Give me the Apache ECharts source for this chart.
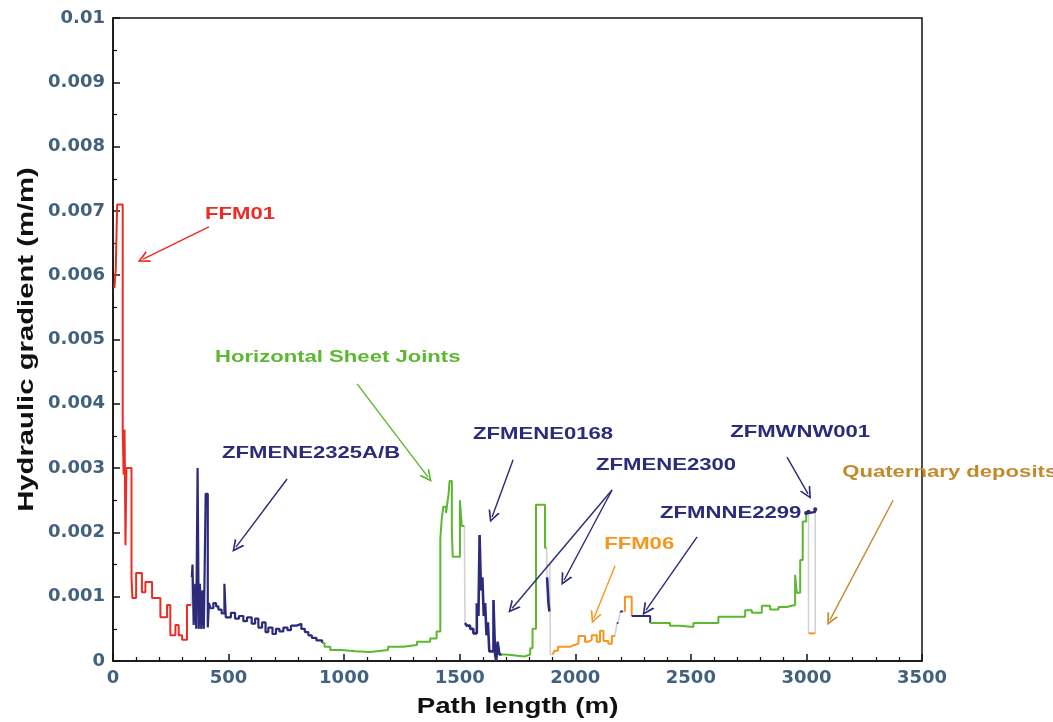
<!DOCTYPE html>
<html>
<head>
<meta charset="utf-8">
<title>Hydraulic gradient along flow path</title>
<script src="https://cdn.jsdelivr.net/npm/echarts@6/dist/echarts.min.js"></script>
<style>
  html, body { margin: 0; padding: 0; background: #ffffff; }
  #chart { width: 1053px; height: 722px; }
</style>
</head>
<body>
<div id="chart"></div>
<script>
// Axis ticks
const xTickLabels = ['0', '500', '1000', '1500', '2000', '2500', '3000', '3500'];
const yTickLabels = ['0', '0.001', '0.002', '0.003', '0.004', '0.005', '0.006', '0.007', '0.008', '0.009', '0.01'];

// Step segments: [path length (m), hydraulic gradient (m/m)], each level holds until the next point
const ffm01 = [[6,0.0058],[12,0.0061],[18,0.0071],[42,0.0036],[46,0.0029],[50,0.0036],[54,0.0018],[58,0.0030],[80,0.0013],[84,0.00098],[100,0.00137],[125,0.00107],[140,0.00123],[169,0.00098],[205,0.00068],[234,0.00087],[248,0.0004],[270,0.00056],[284,0.0004],[299,0.00033],[320,0.00087],[338,0.00087]];
const zfmene2325 = [[341,0.0013],[344,0.0015],[349,0.00056],[356,0.0012],[360,0.0005],[366,0.0030],[371,0.0005],[376,0.0012],[382,0.0005],[387,0.0011],[393,0.0005],[401,0.0026],[410,0.00052],[415,0.0009],[422,0.00082],[434,0.0009],[446,0.00085],[456,0.0008],[470,0.00074],[482,0.0012],[488,0.00068],[510,0.00075],[528,0.00066],[545,0.0007],[564,0.00062],[580,0.00068],[600,0.00058],[615,0.00066],[629,0.00052],[645,0.0006],[660,0.00045],[672,0.00052],[690,0.00042],[705,0.0005],[720,0.00046],[737,0.00052],[755,0.00048],[770,0.00055],[795,0.00058],[815,0.0005],[830,0.00045],[845,0.0004],[860,0.00036],[880,0.00032],[905,0.00028]];
const sheetJoints1 = [[905,0.00028],[915,0.00022],[940,0.00017],[990,0.00015],[1050,0.00014],[1112,0.00017],[1190,0.00022],[1255,0.00025],[1315,0.0003],[1372,0.00035],[1400,0.00046],[1416,0.0019],[1422,0.0022],[1429,0.0024],[1441,0.0023],[1448,0.0025],[1452,0.0026],[1456,0.0028],[1466,0.002],[1470,0.00162],[1501,0.0025],[1509,0.0021],[1520,0.0021]];
const zfmene0168 = [[1523,0.00059],[1530,0.00055],[1545,0.0005],[1559,0.00043],[1574,0.0009],[1581,0.0007],[1586,0.00196],[1592,0.0011],[1598,0.0013],[1604,0.0007],[1610,0.0009],[1616,0.0004],[1622,0.0006],[1628,0.00015],[1646,0.00095],[1653,0.0001],[1658,0.0],[1664,0.0003],[1672,0.0001],[1682,0.0001]];
const sheetJoints2 = [[1682,0.0001],[1700,0.00007],[1780,0.0001],[1805,0.0002],[1815,0.0005],[1830,0.00243],[1869,0.00176],[1876,0.00176]];
const zfmene2300 = [[1878,0.0013],[1884,0.0009],[1888,0.00077],[1890,0.00077]];
const ffm06 = [[1902,0.0001],[1910,0.00016],[1925,0.00022],[1978,0.00025],[1995,0.00027],[2014,0.00039],[2042,0.0003],[2057,0.00033],[2071,0.0004],[2093,0.0003],[2107,0.00047],[2122,0.00031],[2143,0.00027],[2158,0.00039],[2172,0.00039]];
const zfmnne2299a = [[2180,0.00059],[2186,0.00059]];
const zfmnne2299b = [[2194,0.00077],[2206,0.00077]];
const ffm06b = [[2215,0.00077],[2215,0.001],[2244,0.0007]];
const zfmnne2299c = [[2244,0.0007],[2324,0.00059]];
const sheetJoints3 = [[2324,0.00059],[2410,0.00055],[2453,0.00053],[2511,0.00059],[2619,0.00069],[2735,0.00079],[2764,0.00075],[2807,0.00086],[2843,0.0008],[2879,0.00084],[2915,0.00087],[2951,0.00134],[2958,0.00106],[2973,0.00157],[2984,0.00217],[2999,0.0023]];
const zfmwnw001 = [[2999,0.0023],[3009,0.00232],[3038,0.00236]];
const quaternary = [[3009,0.00043],[3038,0.00043]];
// Thin grey links between units (null breaks the line)
const links = [[338,0.00087],[341,0.0013],[null,null],[1520,0.0021],[1523,0.00059],[null,null],[1876,0.00176],[1878,0.0013],[null,null],[1890,0.0015],[1892,0.0001],[1902,0.0001],[null,null],[2172,0.00039],[2180,0.00059],[null,null],[2186,0.00059],[2194,0.00077],[null,null],[2206,0.00077],[2215,0.00077],[null,null],[3009,0.00232],[3009,0.00043],[null,null],[3038,0.00236],[3038,0.00043]];

// Unit labels (left edge, vertical centre) and their arrows, in data units
const labelNames = ['FFM01', 'Horizontal Sheet Joints', 'ZFMENE2325A/B', 'ZFMENE0168', 'ZFMENE2300', 'FFM06', 'ZFMNNE2299', 'ZFMWNW001', 'Quaternary deposits'];
const labelAt = [[398,0.00695],[441,0.00473],[472,0.00323],[1558,0.00353],[2090,0.00305],[2125,0.00182],[2367,0.00229],[2670,0.00355],[3155,0.00294]];
const arrowFrom = [[415,0.00675],[1056,0.00431],[753,0.00283],[1731,0.00313],[2159,0.00266],[2159,0.00266],[2172,0.00148],[2527,0.00193],[2916,0.00317],[3375,0.0025]];
const arrowTo = [[130,0.00625],[1363,0.00286],[532,0.00177],[1640,0.00224],[1727,0.00082],[1952,0.00126],[2081,0.00067],[2306,0.00079],[3007,0.0026],[3102,0.00064]];

const RED = '#ec2b23', NAVY = '#2c2a7b', GREEN = '#5cb731', ORANGE = '#f7961f', GREY = '#d2d2d2', BROWN = '#c38a2c';
const labelColors = [RED, GREEN, NAVY, NAVY, NAVY, ORANGE, NAVY, NAVY, BROWN];
const arrowColors = [RED, GREEN, NAVY, NAVY, NAVY, NAVY, ORANGE, NAVY, NAVY, BROWN];

const chart = echarts.init(document.getElementById('chart'), null, { renderer: 'canvas' });

function stepSeries(name, data, color, width) {
  return {
    name: name, type: 'line', step: 'end', data: data,
    showSymbol: false, symbol: 'none', silent: true,
    lineStyle: { color: color, width: width || 2 },
    z: 3
  };
}

const chevron = 'path://M5,0 L10,12 L8.4,12 L5,3.6 L1.6,12 L0,12 Z';

const arrowLines = arrowFrom.map((f, i) => [
  { coord: f, lineStyle: { color: arrowColors[i], width: 1.4, type: 'solid' }, symbol: 'none' },
  { coord: arrowTo[i], symbol: chevron, symbolSize: 12 }
]);

const tickFont = { fontFamily: '"DejaVu Sans", sans-serif', fontWeight: 'bold', fontSize: 18, color: '#41617f' };

chart.setOption({
  animation: false,
  backgroundColor: '#ffffff',
  grid: { left: 113, right: 131, top: 18, bottom: 61, show: true, borderColor: '#111', borderWidth: 1.5 },
  xAxis: {
    type: 'value', min: 0, max: 3500, interval: 500,
    axisLine: { onZero: false, lineStyle: { color: '#111', width: 1.5 } },
    axisTick: { inside: true, length: 7, lineStyle: { color: '#111', width: 1.5 } },
    minorTick: { show: true, splitNumber: 5, length: 4, lineStyle: { color: '#111', width: 1.2 } },
    splitLine: { show: false },
    axisLabel: Object.assign({ margin: 8, formatter: v => xTickLabels[Math.round(v / 500)] }, tickFont)
  },
  yAxis: {
    type: 'value', min: 0, max: 0.01, interval: 0.001,
    axisLine: { onZero: false, lineStyle: { color: '#111', width: 1.5 } },
    axisTick: { inside: true, length: 7, lineStyle: { color: '#111', width: 1.5 } },
    minorTick: { show: true, splitNumber: 2, length: 4, lineStyle: { color: '#111', width: 1.2 } },
    splitLine: { show: false },
    axisLabel: Object.assign({ margin: 8, formatter: v => yTickLabels[Math.round(v / 0.001)] }, tickFont)
  },
  series: [
    {
      name: 'links', type: 'line', data: links, connectNulls: false,
      showSymbol: false, symbol: 'none', silent: true,
      lineStyle: { color: GREY, width: 1.6 }, z: 2,
      markLine: {
        silent: true, animation: false, label: { show: false },
        symbol: ['none', chevron], symbolSize: 12,
        lineStyle: { type: 'solid', width: 1.4 },
        emphasis: { disabled: true },
        data: arrowLines
      }
    },
    stepSeries('FFM01', ffm01, RED, 2),
    stepSeries('ZFMENE2325A/B', zfmene2325, NAVY, 2.2),
    stepSeries('Horizontal Sheet Joints', sheetJoints1, GREEN, 2),
    stepSeries('ZFMENE0168', zfmene0168, NAVY, 2.6),
    stepSeries('Horizontal Sheet Joints', sheetJoints2, GREEN, 2),
    stepSeries('ZFMENE2300', zfmene2300, NAVY, 2.6),
    stepSeries('FFM06', ffm06, ORANGE, 2),
    stepSeries('ZFMNNE2299', zfmnne2299a, NAVY, 2),
    stepSeries('ZFMNNE2299', zfmnne2299b, NAVY, 2),
    stepSeries('FFM06', ffm06b, ORANGE, 2),
    stepSeries('ZFMNNE2299', zfmnne2299c, NAVY, 2),
    stepSeries('Horizontal Sheet Joints', sheetJoints3, GREEN, 2),
    Object.assign(stepSeries('ZFMWNW001', zfmwnw001, NAVY, 2.2), {
      showSymbol: true, symbol: 'circle', symbolSize: 4, itemStyle: { color: NAVY }
    }),
    stepSeries('Quaternary deposits', quaternary, ORANGE, 2)
  ]
});

// Unit names and axis titles, placed through the chart's own scales
function labelGraphics() {
  const items = labelNames.map((t, i) => {
    const p = chart.convertToPixel({ gridIndex: 0 }, labelAt[i]);
    return {
      type: 'text', x: p[0], y: p[1], scaleX: 1.3, silent: true, z: 10,
      style: { text: t, fill: labelColors[i], font: 'bold 17px "Liberation Sans", Arial, sans-serif', align: 'left', verticalAlign: 'middle' }
    };
  });
  const g = chart.convertToPixel({ gridIndex: 0 }, [1750, 0]);
  const h = chart.convertToPixel({ gridIndex: 0 }, [0, 0.0050]);
  items.push({
    type: 'text', x: g[0], y: 707, scaleX: 1.26, silent: true,
    style: { text: 'Path length (m)', fill: '#111', font: 'bold 22px "Liberation Sans", Arial, sans-serif', align: 'center', verticalAlign: 'middle' }
  });
  items.push({
    type: 'text', x: 27, y: h[1], rotation: Math.PI / 2, scaleX: 1.33, silent: true,
    style: { text: 'Hydraulic gradient (m/m)', fill: '#111', font: 'bold 22px "Liberation Sans", Arial, sans-serif', align: 'center', verticalAlign: 'middle' }
  });
  return items;
}
chart.setOption({ graphic: labelGraphics() });
</script>
</body>
</html>
